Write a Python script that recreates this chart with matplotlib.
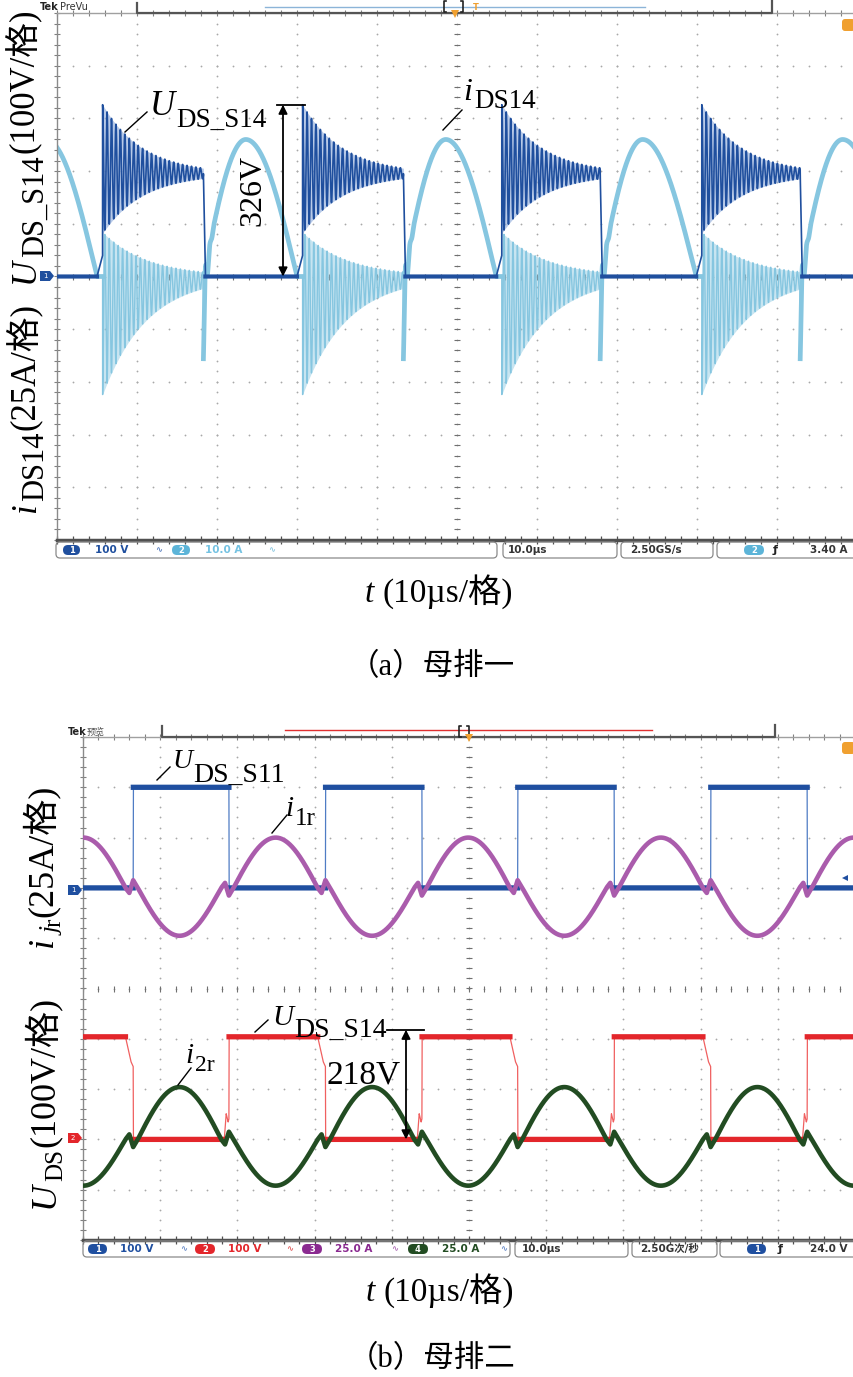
import numpy as np
import matplotlib
matplotlib.use('Agg')
import matplotlib.pyplot as plt
from matplotlib.patches import FancyBboxPatch, Polygon

W, H = 854, 1377
SERIF = ['Liberation Serif', 'Noto Sans CJK SC']
SANS = ['DejaVu Sans', 'Noto Sans CJK SC']
plt.rcParams['font.family'] = SERIF

# ---------------- (a) bus bar 1 : 100 V/div, 25 A/div, 10 us/div ----------------
a_rise_us = [5.7, 30.7, 55.6, 80.6, 105.6]      # U_DS_S14 rising edges
a_fall_us = [-6.7, 18.3, 43.3, 67.9, 92.9]      # U_DS_S14 falling edges
a_uds_flat_v = 195
a_uds_peak_v = 326
a_uds_ring_low_v = 82
a_uds_step_v = 40
a_ring_mhz = 1.8
a_ring_tau_us = 5.0
a_i_peak_a = 65
a_i_peak_delay_us = 5.3
a_i_ring_a = [-56, 21]
a_i_spike_a = -39

# ---------------- (b) bus bar 2 : 100 V/div, 25 A/div, 10 us/div ----------------
b_switch_us = [-6.0, 6.5, 18.9, 31.4, 43.9, 56.3, 68.8, 81.3, 93.8, 106.3]
b_s11_high_v = 200
b_s14_high_v = 204
b_s14_mark_v = 218
b_i1r_a = [25, -23.8]
b_i2r_a = [26, -23.0]
b_kink_a = [2.5, 3.8]

A_DARK, A_HALO, A_LIGHT = '#1f4f9e', '#8aa8da', '#86c6e0'
B_BLUE, B_PURPLE, B_RED, B_GREEN = '#1f4fa0', '#aa5cac', '#e3262b', '#224c22'
ORANGE = '#f0a030'

t = np.linspace(0, 100, 40001)

fig = plt.figure(figsize=(W / 100, H / 100), dpi=100)
ov = fig.add_axes([0, 0, 1, 1], zorder=10)
ov.set_xlim(0, W)
ov.set_ylim(H, 0)
ov.axis('off')
ov.patch.set_alpha(0)


def scope_axes(x0, x1, y0, y1):
    ax = fig.add_axes([x0 / W, 1 - y1 / H, (x1 - x0) / W, (y1 - y0) / H])
    ax.set_xlim(0, 100)
    ax.set_ylim(-5, 5)
    ax.set_xticks([])
    ax.set_yticks([])
    ax.spines['right'].set_visible(False)
    ax.spines['left'].set(color='#8a8a8a', lw=1)
    ax.spines['top'].set(color='#a0a0a0', lw=1)
    ax.spines['bottom'].set(color='#505050', lw=2.5)
    g = '#a8a8a8'
    yd = np.arange(-5, 5.01, 0.2)
    xd = np.arange(0, 100.01, 2)
    for xv in range(10, 100, 10):
        ax.plot(np.full_like(yd, xv), yd, ls='none', marker='o', ms=1.3, mew=0, color=g, zorder=1)
    for yv in range(-4, 5):
        ax.plot(xd, np.full_like(xd, yv), ls='none', marker='o', ms=1.3, mew=0, color=g, zorder=1)
    ax.plot(np.full_like(yd, 50), yd, ls='none', marker='_', ms=5, mew=0.8, color='#707070', zorder=1)
    ax.plot(xd, np.zeros_like(xd), ls='none', marker='|', ms=5, mew=0.8, color='#707070', zorder=1)
    ax.plot(np.zeros_like(yd), yd, ls='none', marker='_', ms=5, mew=0.8, color='#808080', clip_on=False)
    ax.plot(xd, np.full_like(xd, -5), ls='none', marker='|', ms=6, mew=0.9, color='#505050', clip_on=False)
    ax.plot(xd, np.full_like(xd, 5), ls='none', marker='|', ms=5, mew=0.8, color='#808080', clip_on=False)
    return ax


def text_run(x, y, pieces, rot=0, color='black'):
    r = fig.canvas.get_renderer()
    pos = 0.0
    for s, size, style, drop, gap in pieces:
        if rot == 0:
            tx, ty = x + pos, y + drop
        else:
            tx, ty = x + drop, y - pos
        tt = ov.text(tx, ty, s, fontsize=size, style=style, family=SERIF, rotation=rot,
                     rotation_mode='anchor', ha='left', va='baseline', color=color)
        bb = tt.get_window_extent(r)
        pos += (bb.width if rot == 0 else bb.height) + gap


def badge(x0, x1, yc, color, label):
    ov.add_patch(FancyBboxPatch((x0, yc - 5), x1 - x0, 10, boxstyle='round,pad=0,rounding_size=5',
                                fc=color, ec='none'))
    ov.text((x0 + x1) / 2, yc + 0.5, label, color='white', fontsize=6, ha='center', va='center',
            family=SANS, fontweight='bold')


def box(x0, x1, yc):
    ov.add_patch(FancyBboxPatch((x0, yc - 8), x1 - x0, 16, boxstyle='round,pad=0,rounding_size=4',
                                fc='none', ec='#8a8a8a', lw=0.9))


def ground_marker(x0, x1, yc, color, label):
    ov.add_patch(Polygon([(x0, yc - 5), (x1 - 4, yc - 5), (x1, yc), (x1 - 4, yc + 5), (x0, yc + 5)],
                         closed=True, fc=color, ec='none'))
    ov.text((x0 + x1) / 2 - 2, yc + 0.5, label, color='white', fontsize=5, ha='center', va='center',
            family=SANS)


def status(yc, x, s, color, size=7.5, ha='left'):
    ov.text(x, yc, s, color=color, fontsize=size, ha=ha, va='center', family=SANS, fontweight='bold')


# ======================= (a) =======================
ax_a = scope_axes(57, 857, 13, 540)

c_u = (a_uds_peak_v + a_uds_ring_low_v) / 2
r_u = (a_uds_peak_v - a_uds_ring_low_v) / 2
c_i = (a_i_ring_a[0] + a_i_ring_a[1]) / 2
r_i = (a_i_ring_a[1] - a_i_ring_a[0]) / 2
uds = np.zeros_like(t)
ids = np.zeros_like(t)
u_env, i_env = [], []
for f, r in zip(a_fall_us, a_rise_us):
    tz = r - 0.7
    tp = f + a_i_peak_delay_us
    m = (t >= f) & (t < tp)
    ids[m] = a_i_peak_a * np.sin(np.pi / 2 * (t[m] - f) / (tp - f))
    m = (t >= tp) & (t < tz)
    ids[m] = a_i_peak_a * np.cos(np.pi / 2 * (t[m] - tp) / (tz - tp))
    m = (t >= f) & (t < f + 1.5)
    dt = t[m] - f
    ids[m] += a_i_spike_a * np.exp(-dt / 0.35) * 0.5 * (1 + np.cos(2 * np.pi * a_ring_mhz * dt))
    m = (t >= tz) & (t < r)
    uds[m] = a_uds_step_v * (t[m] - tz) / 0.7
for r, f in zip(a_rise_us, a_fall_us[1:]):
    m = (t >= r) & (t < f)
    dt = t[m] - r
    env = np.exp(-dt / a_ring_tau_us)
    osc = np.cos(2 * np.pi * a_ring_mhz * dt)
    base = a_uds_flat_v + (c_u - a_uds_flat_v) * env
    uds[m] = base + r_u * env * osc
    u_env.append((t[m], base - r_u * env, base + r_u * env))
    env_i = np.exp(-dt / 5.5)
    ids[m] = c_i * env_i - r_i * env_i * osc
    i_env.append((t[m], c_i * env_i - r_i * env_i, c_i * env_i + r_i * env_i))
    m = (t >= f) & (t < f + 0.25)
    uds[m] = a_uds_flat_v * (1 - (t[m] - f) / 0.25)

for tm, lo, hi in i_env:
    ax_a.fill_between(tm, lo / 25, hi / 25, color=A_LIGHT, alpha=0.45, lw=0, zorder=2)
ax_a.plot(t, ids / 25, color=A_LIGHT, lw=1.0, zorder=2)
ring_mask = np.zeros_like(t, dtype=bool)
for r, f in zip(a_rise_us, a_fall_us[1:]):
    ring_mask |= (t >= r) & (t < f)
ax_a.plot(t, np.where(ring_mask, np.nan, ids / 25), color=A_LIGHT, lw=3.4, zorder=2)
for tm, lo, hi in u_env:
    ax_a.fill_between(tm, lo / 100, hi / 100, color=A_HALO, alpha=0.6, lw=0, zorder=3)
ax_a.plot(t, uds / 100, color=A_DARK, lw=1.2, zorder=4)
ax_a.plot(t, np.where(uds == 0, 0.0, np.nan), color=A_DARK, lw=3, zorder=4)

# 326 V marker
xa = 28.25
ax_a.plot([27.5, 31.0], [a_uds_peak_v / 100] * 2, color='black', lw=1.3, zorder=6, clip_on=False)
ax_a.annotate('', xy=(xa, a_uds_peak_v / 100), xytext=(xa, 0),
              arrowprops=dict(arrowstyle='<|-|>', color='black', lw=1.3, mutation_scale=13,
                              shrinkA=0, shrinkB=0), zorder=6)
ax_a.text(24.5, a_uds_peak_v / 200, f'{a_uds_peak_v}V', rotation=90, fontsize=23, family=SERIF,
          ha='center', va='center', zorder=6)

# header (a)
ov.text(40, 7, 'Tek', fontsize=7, family=SANS, fontweight='bold', va='center', color='#222')
ov.text(60, 7, 'PreVu', fontsize=7, family=SANS, va='center', color='#333')
ov.plot([137, 137, 772, 772], [3, 13, 13, 1], color='#555', lw=1.6)
ov.plot([265, 645], [7, 7], color='#8cb4d8', lw=1)
ov.plot([446, 444, 444, 446], [1, 1, 12, 12], color='#222', lw=1.2)
ov.plot([461, 463, 463, 461], [1, 1, 12, 12], color='#222', lw=1.2)
ov.plot([455], [14], marker='v', ms=6, color=ORANGE, mew=0)
ov.text(476, 8, 'T', fontsize=6, color=ORANGE, family=SANS, ha='center', va='center', fontweight='bold')
ov.add_patch(FancyBboxPatch((842, 19), 13, 12, boxstyle='round,pad=0,rounding_size=3', fc=ORANGE, ec='none'))
ground_marker(40, 54, 276, A_DARK, '1')

# status (a)
ya = 550
box(56, 497, ya)
badge(63, 80, ya, A_DARK, '1')
status(ya, 95, '100 V', A_DARK)
status(ya, 155, '∿', '#5a7fbf', 6)
badge(172, 190, ya, '#5cb4d8', '2')
status(ya, 205, '10.0 A', '#74c2e2')
status(ya, 268, '∿', '#8cc8e0', 6)
box(503, 617, ya)
status(ya, 508, '10.0µs', '#333')
box(621, 713, ya)
status(ya, 630, '2.50GS/s', '#333')
box(717, 860, ya)
badge(744, 764, ya, '#5cb4d8', '2')
status(ya, 773, 'ƒ', '#222', 8)
status(ya, 848, '3.40 A', '#333', ha='right')

# annotations (a)
ov.plot([125, 147], [132, 112], color='black', lw=1)
text_run(150, 115, [('U', 25, 'italic', 0, 1), ('DS_S14', 19.5, 'normal', 12, 0)])
ov.plot([443, 462], [130, 110], color='black', lw=1)
text_run(463, 100, [('i', 23, 'italic', 0, 2), ('DS14', 19.5, 'normal', 8, 0)])
text_run(34, 283, [('U', 25, 'italic', 0, 1), ('DS_S14', 22, 'normal', 9, 2),
                   ('(100V/格)', 25, 'normal', 0, 0)], rot=90)
text_run(35, 513, [('i', 25, 'italic', 0, 2), ('DS14', 22, 'normal', 8, 2),
                   ('(25A/格)', 25, 'normal', 0, 0)], rot=90)
text_run(365, 602, [('t', 24, 'italic', 0, 8), ('(10µs/格)', 24, 'normal', 0, 0)])
ov.text(432, 675, '（a）母排一', fontsize=22, family=SERIF, ha='center', va='baseline')

# ======================= (b) =======================
ax_b = scope_axes(83, 855, 737, 1240)


def b_current(amps, sign0):
    i = np.zeros_like(t)
    kt, kv = [], []
    for k in range(len(b_switch_us) - 1):
        s, s2 = b_switch_us[k], b_switch_us[k + 1]
        sg = sign0 * (-1) ** k
        pk = amps[0] if sg > 0 else amps[1]
        a0, a1 = s + 0.6, s2 - 1.0
        m = (t >= a0) & (t < a1)
        i[m] = pk * np.sin(np.pi * (t[m] - a0) / (a1 - a0))
        kt += [s2 - 1.0, s2 - 0.5, s2, s2 + 0.6]
        kv += [0, -sg * b_kink_a[0], sg * b_kink_a[1], 0]
    for j in range(0, len(kt), 4):
        m = (t >= kt[j]) & (t < kt[j + 3])
        i[m] = np.interp(t[m], kt[j:j + 4], kv[j:j + 4])
    return i


def b_voltage(level, high_when_neg, shaped):
    kt, kv = [], []
    for k in range(1, len(b_switch_us)):
        s = b_switch_us[k]
        sg = (-1) ** k  # purple sign after switch k (purple starts positive)
        going_high = (sg < 0) == high_when_neg
        if going_high:
            if shaped:
                kt += [s - 0.6, s - 0.35, s - 0.1, s, s + 0.02]
                kv += [0, 0.25 * level, 0.17 * level, 0.2 * level, level]
            else:
                kt += [s, s + 0.02]
                kv += [0, level]
        else:
            if shaped:
                kt += [s - 1.0, s - 0.3, s, s + 0.02]
                kv += [level, 0.76 * level, 0.71 * level, 0]
            else:
                kt += [s, s + 0.02]
                kv += [level, 0]
    return np.interp(t, kt, kv)


u11 = b_voltage(b_s11_high_v, True, False)
u14 = b_voltage(b_s14_high_v, False, True)
i1r = b_current(b_i1r_a, 1)
i2r = b_current(b_i2r_a, -1)


def flat(u, level):
    return np.where(np.isclose(u, level) | np.isclose(u, 0), u, np.nan)


ax_b.plot(t, 2 + u11 / 100, color='#4f7cc4', lw=0.9, zorder=3)
ax_b.plot(t, 2 + flat(u11, b_s11_high_v) / 100, color=B_BLUE, lw=3.8, zorder=3)
ax_b.plot(t, 2 + i1r / 25, color=B_PURPLE, lw=3.3, zorder=4)
ax_b.plot(t, -3 + u14 / 100, color='#f06060', lw=0.9, zorder=3)
ax_b.plot(t, -3 + flat(u14, b_s14_high_v) / 100, color=B_RED, lw=3.8, zorder=3)
ax_b.plot(t, -3 + i2r / 25, color=B_GREEN, lw=3.3, zorder=4)

# 218 V marker
xb = (406 - 83) / 7.72
ax_b.plot([(387 - 83) / 7.72, (424 - 83) / 7.72], [-3 + b_s14_mark_v / 100] * 2, color='black', lw=1.3,
          zorder=6)
ax_b.annotate('', xy=(xb, -3 + b_s14_mark_v / 100), xytext=(xb, -3),
              arrowprops=dict(arrowstyle='<|-|>', color='black', lw=1.3, mutation_scale=13,
                              shrinkA=0, shrinkB=0), zorder=6)
ov.text(327, 1083, f'{b_s14_mark_v}V', fontsize=24, family=SERIF, va='baseline', ha='left')

# header (b)
ov.text(68, 732, 'Tek', fontsize=7, family=SANS, fontweight='bold', va='center', color='#222')
ov.text(87, 732, '预览', fontsize=6.5, family=SANS, va='center', color='#555')
ov.plot([162, 162, 775, 775], [726, 737, 737, 725], color='#555', lw=1.6)
ov.plot([285, 652], [730, 730], color='#e03030', lw=1)
ov.plot([461, 459, 459, 461], [726, 726, 737, 737], color='#222', lw=1.2)
ov.plot([467, 469, 469, 467], [726, 726, 737, 737], color='#222', lw=1.2)
ov.plot([469], [738], marker='v', ms=6, color=ORANGE, mew=0)
ov.add_patch(FancyBboxPatch((842, 742), 13, 12, boxstyle='round,pad=0,rounding_size=3', fc=ORANGE, ec='none'))
ov.plot([845], [878], marker='<', ms=4, color=B_BLUE, mew=0)
ground_marker(68, 82, 890, B_BLUE, '1')
ground_marker(68, 82, 1138, B_RED, '2')

# status (b)
yb = 1249
box(83, 510, yb)
badge(88, 107, yb, B_BLUE, '1')
status(yb, 120, '100 V', B_BLUE)
status(yb, 180, '∿', '#6a8cc8', 6)
badge(195, 215, yb, B_RED, '2')
status(yb, 228, '100 V', B_RED)
status(yb, 286, '∿', '#e06060', 6)
badge(302, 322, yb, '#8a2a90', '3')
status(yb, 335, '25.0 A', '#8a2a90')
status(yb, 391, '∿', '#b070b8', 6)
badge(408, 428, yb, B_GREEN, '4')
status(yb, 442, '25.0 A', B_GREEN)
status(yb, 500, '∿', '#6a8cc8', 6)
box(515, 628, yb)
status(yb, 522, '10.0µs', '#333')
box(632, 717, yb)
status(yb, 640, '2.50G次/秒', '#333')
box(720, 860, yb)
badge(747, 766, yb, B_BLUE, '1')
status(yb, 778, 'ƒ', '#222', 8)
status(yb, 848, '24.0 V', '#333', ha='right')

# annotations (b)
ov.plot([157, 170], [780, 767], color='black', lw=1)
text_run(172, 768, [('U', 20, 'italic', 0, 1), ('DS_S11', 20, 'normal', 14, 0)])
ov.plot([272, 287], [833, 815], color='black', lw=1)
text_run(285, 816, [('i', 21, 'italic', 0, 2), ('1r', 18, 'normal', 9, 0)])
ov.plot([255, 268], [1032, 1020], color='black', lw=1)
text_run(272, 1025, [('U', 21, 'italic', 0, 1), ('DS_S14', 20, 'normal', 12, 0)])
ov.plot([178, 191], [1085, 1068], color='black', lw=1)
text_run(185, 1063, [('i', 21, 'italic', 0, 2), ('2r', 17, 'normal', 8, 0)])
text_run(52, 947, [('i', 26, 'italic', 0, 2), ('j', 18, 'italic', 8, 1), ('r', 18, 'normal', 8, 2),
                   ('(25A/格)', 26, 'normal', 0, 0)], rot=90)
text_run(54, 1208, [('U', 26, 'italic', 0, 1), ('DS', 18, 'normal', 8, 2),
                    ('(100V/格)', 26, 'normal', 0, 0)], rot=90)
text_run(366, 1301, [('t', 24, 'italic', 0, 8), ('(10µs/格)', 24, 'normal', 0, 0)])
ov.text(432, 1367, '（b）母排二', fontsize=22, family=SERIF, ha='center', va='baseline')

fig.savefig('out.png', dpi=100, facecolor='white')
